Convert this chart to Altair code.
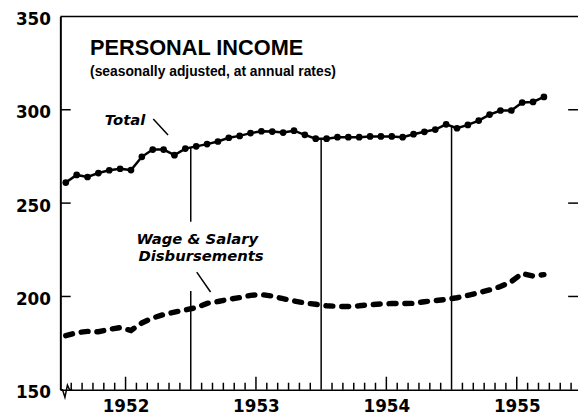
import altair as alt
import pandas as pd

# month index: 0 = Jan 1952 ... 44 = Sep 1955
months = list(range(45))
total = [261.0, 265.1, 264.0, 266.1, 267.6, 268.4, 267.7, 274.8, 278.7, 278.7, 275.7, 279.2,
         280.4, 281.6, 283.0, 285.0, 286.0, 287.5, 288.5, 288.3, 287.8, 288.8, 286.6, 284.5,
         284.5, 285.3, 285.3, 285.3, 285.7, 285.7, 285.7, 285.3, 286.9, 288.2, 289.4, 292.2,
         290.1, 291.9, 294.2, 297.4, 299.6, 299.6, 303.9, 304.2, 306.9]
wages = [179.0, 180.6, 181.3, 181.1, 182.4, 183.3, 181.8, 185.8, 188.5, 190.3, 191.6, 192.8,
         194.0, 196.3, 197.3, 198.5, 199.4, 200.6, 201.0, 200.2, 198.8, 197.6, 196.5, 195.8,
         195.0, 194.7, 194.6, 195.0, 195.6, 196.0, 196.2, 196.2, 196.3, 197.2, 197.8, 198.4,
         199.3, 200.6, 202.0, 203.5, 205.3, 208.0, 212.3, 210.9, 211.7]
years = [1952, 1953, 1954, 1955]
y_ticks = [150, 200, 250, 300, 350]

XMIN, XMAX = -0.5, 47.136
YMIN, YMAX = 150, 350
FONT_AX = "DejaVu Sans"

series = pd.DataFrame({"k": months, "total": total, "wages": wages})

# frame / tick rules
rules = []
rules.append((XMIN, XMAX, YMAX, YMAX))  # top frame
for v in [200, 250, 300]:
    rules.append((XMIN, XMIN + 0.95, v, v))          # left inward ticks
    rules.append((46.23, XMAX, v, v))                # right inward ticks
for yi in range(1, 4):                               # year boundaries up to Total
    b = 12 * yi - 0.5
    top = (total[12 * yi - 1] + total[12 * yi]) / 2
    if yi == 1:   # broken behind the "Wage & Salary" label
        rules.append((b, b, YMIN, 202.9))
        rules.append((b, b, 240.0, top))
    else:
        rules.append((b, b, YMIN, top))
for m in range(47):                                  # month ticks
    b = m + 0.5
    if (m + 1) % 12 == 0:
        continue
    h = 7.0 if (m + 1) % 12 == 6 else 3.8
    rules.append((b, b, YMIN, YMIN + h))
# leaders
rules.append((8.05, 9.41, 295.0, 286.5))
rules.append((12.05, 13.32, 213.0, 202.4))
rules_df = pd.DataFrame(rules, columns=["k", "k2", "v", "v2"])

# axis-break squiggle on the baseline
brk = pd.DataFrame({"k": [-0.5, -0.3, -0.08, 0.15, 0.35, 0.6],
                    "v": [150, 150, 146.0, 152.5, 150, 150], "o": list(range(6))})

xs = alt.Scale(domain=[XMIN, XMAX], nice=False, zero=False)
ys = alt.Scale(domain=[YMIN, YMAX], nice=False, zero=False)
x_axis = alt.Axis(values=[5.5, 17.5, 29.5, 41.5],
                  labelExpr="toString(1952 + floor(datum.value / 12))",
                  grid=False, ticks=False, domain=True, domainColor="black",
                  domainWidth=1.5, labelFont=FONT_AX, labelFontSize=17,
                  labelFontWeight="bold", labelColor="black", labelPadding=9,
                  title=None)
y_axis = alt.Axis(values=y_ticks, grid=False, ticks=False, domain=True,
                  domainColor="black", domainWidth=2, labelFont=FONT_AX,
                  labelFontSize=17, labelFontWeight="bold", labelColor="black",
                  labelPadding=10, labelOffset=3, title=None)

def X(f="k"):
    return alt.X(f"{f}:Q", scale=xs, axis=x_axis)

def Y(f):
    return alt.Y(f"{f}:Q", scale=ys, axis=y_axis)

rule_layer = alt.Chart(rules_df).mark_rule(color="black", strokeWidth=1.5).encode(
    x=X(), x2="k2:Q", y=Y("v"), y2="v2:Q")

brk_layer = alt.Chart(brk).mark_line(color="black", strokeWidth=1.5).encode(
    x=X(), y=Y("v"), order="o:Q")

total_line = alt.Chart(series).mark_line(color="black", strokeWidth=2.5).encode(
    x=X(), y=Y("total"))
total_pts = alt.Chart(series).mark_point(filled=True, color="black", size=46, opacity=1).encode(
    x=X(), y=Y("total"))
wage_line = alt.Chart(series).mark_line(color="black", strokeWidth=5.5, strokeDash=[7, 9],
                                        strokeCap="round").encode(x=X(), y=Y("wages"))

title_df = pd.DataFrame({"k": [2.23], "v": [329.4], "t": ["PERSONAL INCOME"]})
sub_df = pd.DataFrame({"k": [2.23], "v": [318.3], "t": ["(seasonally adjusted, at annual rates)"]})
ann_df = pd.DataFrame({"k": [3.59, 6.5, 6.68], "v": [291.8, 228.3, 218.8],
                       "t": ["Total", "Wage & Salary", "Disbursements"]})

title_layer = alt.Chart(title_df).mark_text(align="left", baseline="alphabetic",
                                            font="Liberation Sans", fontSize=22,
                                            fontWeight="bold", color="black").encode(
    x=X(), y=Y("v"), text="t:N")
sub_layer = alt.Chart(sub_df).mark_text(align="left", baseline="alphabetic",
                                        font="Liberation Sans", fontSize=14,
                                        fontWeight="bold", color="black").encode(
    x=X(), y=Y("v"), text="t:N")
ann_layer = alt.Chart(ann_df).mark_text(align="left", baseline="alphabetic",
                                        font="DejaVu Sans", fontSize=15,
                                        fontWeight="bold", fontStyle="italic",
                                        color="black").encode(
    x=X(), y=Y("v"), text="t:N")

chart = alt.layer(rule_layer, brk_layer, wage_line, total_line, total_pts,
                  title_layer, sub_layer, ann_layer).properties(
    width=524, height=378,
    autosize=alt.AutoSizeParams(type="none"),
    padding={"left": 53, "top": 6, "right": 0, "bottom": 25},
    background="white",
).configure_view(stroke=None)

chart.save("out.html", embed_options={"renderer": "svg", "actions": False})
